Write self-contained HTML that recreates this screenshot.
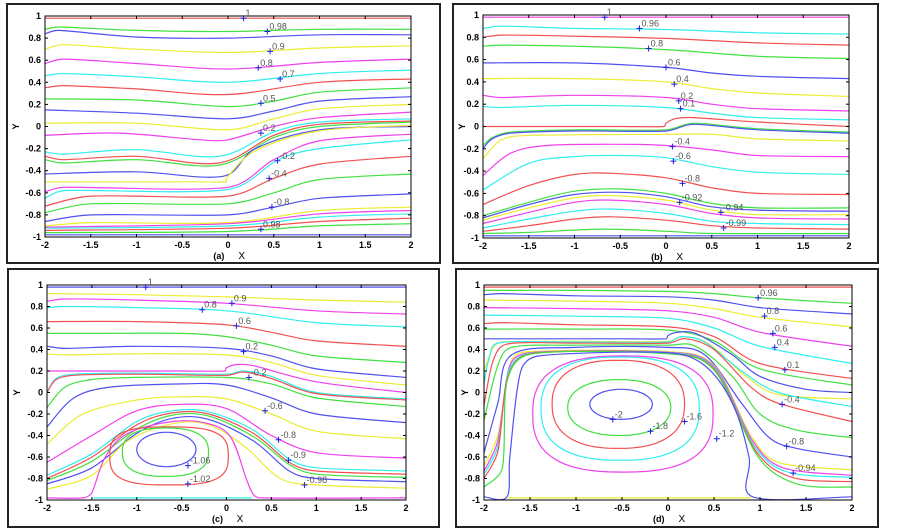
<!DOCTYPE html>
<html><head><meta charset="utf-8"><style>
html,body{margin:0;padding:0;background:#fff;}
svg{display:block;font-family:"Liberation Sans",sans-serif;}
</style></head><body>
<svg id="s" width="903" height="532" viewBox="0 0 903 532" xmlns="http://www.w3.org/2000/svg"></svg>
<script>
const S=document.getElementById('s');
const C={r:'#f25050',g:'#40e040',b:'#5050f0',y:'#ecec30',m:'#ee40ee',c:'#30eeee'};
function add(tag,attrs,txt){const e=document.createElementNS('http://www.w3.org/2000/svg',tag);for(const k in attrs)e.setAttribute(k,attrs[k]);if(txt!==undefined)e.textContent=txt;S.appendChild(e);return e;}
function tan(a,c,len){let tx=(c[0]-a[0])/6,ty=(c[1]-a[1])/6;const m=Math.hypot(tx,ty),lim=len*0.4;if(m>lim&&m>0){tx*=lim/m;ty*=lim/m;}return [tx,ty];}
function panel(P){
  const {fx0,fy0,fx1,fy1,x0,x1,y0,y1,cap}=P;
  const X=v=>x0+(v+2)/4*(x1-x0), Y=v=>y0+(1-v)/2*(y1-y0);
  add('rect',{x:fx0,y:fy0,width:fx1-fx0,height:fy1-fy0,fill:'none',stroke:'#222','stroke-width':2});
  P.lines.forEach(L=>{
    const col=C[L[0]],pts=L[1];const p=[];for(let i=0;i<pts.length;i+=2)p.push([X(pts[i]),Y(pts[i+1])]);
    let d='M'+p[0][0].toFixed(1)+','+p[0][1].toFixed(1);
    for(let i=0;i<p.length-1;i++){const a=p[i-1]||p[i],b=p[i],c=p[i+1],e=p[i+2]||c;
      const len=Math.hypot(c[0]-b[0],c[1]-b[1]);const t1=tan(a,c,len),t2=tan(b,e,len);
      d+=' C'+(b[0]+t1[0]).toFixed(1)+','+(b[1]+t1[1]).toFixed(1)+' '+(c[0]-t2[0]).toFixed(1)+','+(c[1]-t2[1]).toFixed(1)+' '+c[0].toFixed(1)+','+c[1].toFixed(1);}
    add('path',{d:d,fill:'none',stroke:col,'stroke-width':1.2});
  });
  (P.loops||[]).forEach(L=>{
    const [col,cx,cy,rx,ry,n]=L;let d='';
    for(let i=0;i<=72;i++){const t=i/72*2*Math.PI,c=Math.cos(t),s=Math.sin(t);
      const xx=cx+rx*Math.sign(c)*Math.pow(Math.abs(c),2/n),yy=cy+ry*Math.sign(s)*Math.pow(Math.abs(s),2/n);
      d+=(i?'L':'M')+X(xx).toFixed(1)+','+Y(yy).toFixed(1);}
    add('path',{d:d+'Z',fill:'none',stroke:C[col],'stroke-width':1.2});
  });
  add('rect',{x:x0,y:y0,width:x1-x0,height:y1-y0,fill:'none',stroke:'#000','stroke-width':1});
  for(let v=-2;v<=2.001;v+=0.5){const px=X(v);
    add('line',{x1:px,y1:y1,x2:px,y2:y1-3,stroke:'#000'});add('line',{x1:px,y1:y0,x2:px,y2:y0+3,stroke:'#000'});
    add('text',{x:px,y:y1+11,'font-size':9,'font-weight':'bold','text-anchor':'middle'},String(Math.round(v*10)/10));}
  for(let k=-5;k<=5;k++){const v=k/5,py=Y(v);
    add('line',{x1:x0,y1:py,x2:x0+3,y2:py,stroke:'#000'});add('line',{x1:x1,y1:py,x2:x1-3,y2:py,stroke:'#000'});
    let s=k===0?'0':(Math.abs(k)===5?String(k/5):(v).toFixed(1));
    add('text',{x:x0-4,y:py+3,'font-size':9,'font-weight':'bold','text-anchor':'end'},s);}
  add('text',{x:fx0+12,y:(y0+y1)/2,'font-size':9,'font-weight':'bold',transform:'rotate(-90 '+(fx0+12)+' '+((y0+y1)/2)+')','text-anchor':'middle'},'Y');
  add('text',{x:X(-0.1),y:y1+22,'font-size':9,'font-weight':'bold','text-anchor':'middle'},cap);
  add('text',{x:X(0.15),y:y1+22,'font-size':10,'text-anchor':'middle'},'X');
  P.labels.forEach(l=>{const px=X(l[1]),py=Y(l[2]);
    add('path',{d:'M'+(px-3)+','+py+'h6M'+px+','+(py-3)+'v6',stroke:'#2020e0','stroke-width':1});
    add('text',{x:px+2,y:py-2,'font-size':9,fill:'#555'},l[0]);});
}
const A={fx0:7,fy0:4,fx1:440,fy1:263,x0:45,x1:411,y0:16,y1:237,cap:'(a)',
lines:[['r',[-2,.98,2,.98]],['g',[-2,.88,-1.85,.9,-1,.87,0,.86,1,.88,2,.88]],['b',[-2,.84,-1.85,.87,-1,.81,0,.8,1,.83,2,.83]],
['y',[-2,.7,-1.8,.74,-1,.7,0,.67,1,.71,2,.73]],['m',[-2,.57,-1.8,.61,-1,.57,0,.52,1,.58,2,.61]],['c',[-2,.46,-1.8,.48,-1,.45,0,.4,1,.48,2,.51]],
['r',[-2,.35,-1.8,.37,-1,.34,0,.29,1,.4,2,.43]],['g',[-2,.25,-1,.24,0,.18,.5,.23,1,.31,2,.35]],['b',[-2,.15,-1,.12,0,.07,.5,.14,1,.23,2,.27]],
['y',[-2,.03,-1,.03,0,-.03,.5,.07,1,.16,2,.2]],['m',[-2,-.08,-1.2,-.06,-.3,-.12,0,-.12,.5,0,1,.08,2,.13]],
['c',[-2,-.23,-1.8,-.25,-1,-.21,-.1,-.27,.5,-.05,1,.04,2,.07]],['r',[-2,-.27,-1.8,-.3,-1,-.27,-.1,-.33,.5,-.08,1,.02,2,.05]],
['g',[-2,-.3,-1.8,-.33,-1,-.3,-.1,-.35,.5,-.1,1,0,2,.04]],['b',[-2,-.43,-1,-.41,-.05,-.45,.3,-.2,1,-.03,2,0]],
['y',[-2,-.5,-.3,-.5,-.02,-.5,-.02,-.47,.3,-.22,1,-.04,2,.01]],['m',[-2,-.59,-1.8,-.55,0,-.55,.5,-.3,1,-.13,2,-.07]],
['c',[-2,-.65,-1.8,-.58,0,-.57,.55,-.3,1,-.2,2,-.12]],['r',[-2,-.72,-1.5,-.63,0,-.63,.5,-.47,1,-.34,2,-.27]],
['g',[-2,-.78,-1.5,-.7,0,-.7,.5,-.6,1,-.48,2,-.43]],['b',[-2,-.86,-1.5,-.8,0,-.8,.5,-.73,1,-.65,2,-.61]],
['y',[-2,-.9,-1.5,-.87,0,-.87,1,-.76,2,-.73]],['m',[-2,-.91,0,-.88,1,-.79,2,-.76]],['c',[-2,-.92,0,-.9,1,-.82,2,-.79]],
['r',[-2,-.94,0,-.92,1,-.86,2,-.83]],['g',[-2,-.96,0,-.95,1,-.9,2,-.88]],['b',[-2,-.98,2,-.98]]],
labels:[['1',.17,.98],['0.98',.43,.86],['0.9',.46,.68],['0.8',.33,.53],['0.7',.57,.43],['0.5',.36,.21],['0.2',.36,-.06],['-0.2',.54,-.31],['-0.4',.45,-.47],['-0.8',.48,-.73],['0.98',.36,-.93]]};
const B={fx0:453,fy0:4,fx1:878,fy1:263,x0:483,x1:849,y0:15,y1:238,cap:'(b)',
lines:[['m',[-2,.98,2,.98]],['c',[-2,.88,-1.8,.9,-1,.88,0,.87,1,.84,2,.83]],['r',[-2,.8,-1.8,.82,-1,.81,0,.79,1,.75,2,.73]],
['g',[-2,.72,-1.8,.73,-1,.72,0,.69,1,.63,2,.61]],['b',[-2,.57,-1,.57,0,.53,.5,.48,1,.45,2,.43]],['y',[-2,.43,-1,.43,0,.4,.5,.34,1,.3,2,.27]],
['m',[-2,.28,-1.8,.26,-1,.28,0,.26,.5,.2,1,.16,2,.14]],['c',[-2,.18,-1.8,.17,-1,.19,0,.17,.5,.12,1,.08,2,.06]],
['r',[-2,0,-.5,0,-.02,0,0,.03,.1,.07,.3,.08,1,.04,2,0]],['g',[-2,-.17,-1.9,-.1,-1.7,-.05,-1,-.03,0,-.03,.3,.03,1,-.02,2,-.05]],
['b',[-2,-.2,-1.9,-.11,-1.7,-.06,-1,-.04,0,-.04,.3,.02,1,-.03,2,-.06]],['y',[-2,-.29,-1.8,-.12,-1.5,-.08,0,-.07,.5,-.07,1,-.11,2,-.13]],
['m',[-2,-.44,-1.7,-.24,-1.3,-.17,-.5,-.16,0,-.17,.5,-.21,1,-.26,2,-.27]],['c',[-2,-.57,-1.5,-.33,-1,-.27,-.5,-.26,0,-.28,.5,-.36,1,-.41,2,-.43]],
['r',[-2,-.7,-1.5,-.53,-1,-.43,-.6,-.42,0,-.46,.5,-.55,1,-.6,2,-.61]],['g',[-2,-.8,-1.5,-.68,-1,-.58,-.5,-.56,0,-.6,.5,-.69,1,-.73,2,-.73]],
['b',[-2,-.82,-1.5,-.7,-1,-.61,-.5,-.59,0,-.63,.5,-.72,1,-.75,2,-.76]],['y',[-2,-.84,-1.5,-.73,-1,-.64,-.6,-.62,0,-.66,.5,-.75,1,-.79,2,-.79]],
['m',[-2,-.87,-1.5,-.77,-1,-.68,-.6,-.66,0,-.7,.5,-.78,1,-.82,2,-.83]],['c',[-2,-.91,-1.5,-.83,-1,-.76,-.6,-.74,0,-.78,.5,-.85,1,-.87,2,-.88]],
['r',[-2,-.94,-1.5,-.89,-1,-.83,-.6,-.81,0,-.84,.5,-.89,1,-.91,2,-.92]],['g',[-2,-.96,-1.5,-.95,-.7,-.92,0,-.94,.5,-.96,2,-.96]],['b',[-2,-.98,2,-.98]]],
labels:[['1',-.67,.98],['0.96',-.29,.88],['0.8',-.19,.7],['0.6',0,.53],['0.4',.09,.38],['0.2',.14,.23],['0.1',.16,.16],['-0.4',.07,-.18],['-0.6',.08,-.31],['-0.8',.18,-.51],['-0.92',.15,-.68],['-0.94',.6,-.77],['-0.99',.63,-.91]]};
const Cc={fx0:8,fy0:269,fx1:439,fy1:527,x0:47,x1:406,y0:285,y1:500,cap:'(c)',
lines:[['b',[-2,.98,2,.98]],['y',[-2,.92,-1,.91,0,.89,1,.86,2,.84]],['m',[-2,.85,-1.8,.87,-1,.86,0,.83,1,.76,2,.73]],
['c',[-2,.79,-1.8,.8,-1,.79,0,.76,1,.65,2,.61]],['r',[-2,.66,-1,.66,0,.63,.5,.56,1,.48,2,.43]],['g',[-2,.55,-1.5,.55,-.5,.55,0,.52,.5,.44,1,.34,2,.28]],
['b',[-2,.43,-1.8,.41,-1,.43,0,.41,.5,.34,1,.22,2,.14]],['y',[-2,.36,-1.8,.35,-1,.36,0,.35,.5,.28,1,.16,2,.07]],
['m',[-2,.2,-.5,.2,-.02,.2,0,.23,.1,.26,.3,.25,1,.1,2,0]],['c',[-2,0,-1.9,.13,-1.7,.17,-1,.18,0,.17,.2,.2,.5,.15,1,0,2,-.06]],
['r',[-2,0,-1.9,.12,-1.7,.16,-1,.17,0,.16,.2,.19,.5,.13,1,-.01,2,-.07]],['g',[-2,-.14,-1.8,.05,-1.5,.12,-1,.14,0,.14,.5,.08,1,-.05,2,-.13]],
['b',[-2,-.32,-1.7,-.05,-1.3,.05,-.5,.08,0,.07,.5,-.05,1,-.2,2,-.28]],['y',[-2,-.48,-1.6,-.2,-1,-.07,-.5,-.04,0,-.06,.5,-.2,1,-.36,2,-.43]],
['m',[-2,-.65,-1.5,-.4,-1,-.17,-.5,-.11,0,-.15,.5,-.4,1,-.56,2,-.61]],
['c',[-2,-.77,-1.5,-.57,-1,-.27,-.6,-.17,-.2,-.18,.3,-.35,.7,-.62,1,-.7,2,-.73]],['r',[-2,-.8,-1.5,-.6,-1,-.3,-.6,-.19,-.2,-.2,.3,-.38,.7,-.65,1,-.73,2,-.76]],
['g',[-2,-.82,-1.5,-.64,-1,-.34,-.6,-.21,-.2,-.22,.3,-.41,.7,-.67,1,-.76,2,-.79]],['b',[-2,-.85,-1.5,-.7,-1,-.38,-.6,-.24,-.2,-.25,.3,-.45,.7,-.73,1,-.8,2,-.83]],
['y',[-2,-.9,-1.5,-.77,-1.1,-.45,-.6,-.29,-.2,-.3,.2,-.5,.6,-.8,1,-.86,2,-.89]],
['m',[-2,-.98,-1.6,-.98,-1.5,-.93,-1.35,-.6,-1.1,-.38,-.6,-.27,-.2,-.29,.05,-.42,.22,-.8,.3,-.95,.4,-.98,2,-.98]],
['c',[-1.48,-.98,-.5,-.98,.28,-.98]]],
loops:[['r',-.64,-.59,.66,.27,3],['g',-.68,-.555,.48,.225,2.5],['b',-.67,-.53,.33,.16,2]],
labels:[['1',-.9,.98],['0.9',.06,.83],['0.8',-.27,.77],['0.6',.11,.62],['0.2',.19,.38],['-0.2',.25,.14],['-0.6',.43,-.17],['-0.8',.58,-.44],['-0.9',.69,-.63],['-0.98',.87,-.86],['-1.06',-.43,-.68],['-1.02',-.43,-.85]]};
const D={fx0:456,fy0:269,fx1:878,fy1:527,x0:484,x1:852,y0:285,y1:500,cap:'(d)',
lines:[['r',[-2,.98,2,.98]],['g',[-2,.95,-1,.95,0,.94,.5,.92,1,.88,2,.83]],['b',[-2,.91,-1.8,.92,-1,.9,0,.89,.5,.86,1,.79,2,.73]],
['y',[-2,.86,-1,.85,0,.83,.5,.78,1,.7,2,.61]],['m',[-2,.79,-1,.78,0,.76,.5,.7,1,.56,2,.43]],['c',[-2,.72,-1,.71,0,.69,.5,.6,1,.43,2,.27]],
['r',[-2,.64,-1.8,.65,-1,.63,0,.61,.5,.52,1,.27,2,.13]],['g',[-2,.59,-1,.59,0,.58,.5,.48,1,.22,2,.07]],
['b',[-2,.5,-.5,.5,-.02,.5,0,.53,.1,.56,.3,.55,.7,.35,1,.15,1.5,.03,2,0]],
['y',[-2,.2,-1.9,.42,-1.8,.47,-1,.475,0,.475,.18,.52,.45,.45,.85,.15,1.2,-.02,2,-.06]],
['c',[-2,.08,-1.95,.3,-1.85,.46,-1,.47,0,.47,.15,.52,.4,.47,.8,.2,1.2,0,2,-.13]],
['r',[-2,-.12,-1.9,.3,-1.75,.45,-1,.46,0,.46,.2,.5,.5,.4,.9,.05,1.2,-.1,2,-.27]],
['g',[-2,-.26,-1.85,.25,-1.7,.42,-1,.44,0,.44,.3,.43,.7,.15,1,-.2,1.4,-.35,2,-.42]],
['b',[-2,-.56,-1.85,-.1,-1.7,.35,-1,.42,0,.42,.4,.35,.8,-.1,1.1,-.42,1.4,-.52,2,-.6]],
['y',[-2,-.68,-1.85,-.4,-1.7,.3,-1.5,.38,0,.38,.5,.25,.9,-.4,1.2,-.65,2,-.72]],
['m',[-2,-.73,-1.85,-.45,-1.72,.25,-1.5,.37,0,.375,.5,.24,.92,-.45,1.25,-.7,2,-.77]],
['c',[-2,-.76,-1.85,-.5,-1.73,.2,-1.5,.365,0,.37,.5,.23,.94,-.5,1.3,-.74,2,-.79]],
['r',[-2,-.8,-1.85,-.55,-1.74,.15,-1.5,.36,0,.365,.5,.22,.96,-.55,1.35,-.79,2,-.83]],
['g',[-2,-.88,-1.8,-.7,-1.75,.1,-1.5,.355,0,.36,.5,.21,.98,-.6,1.4,-.85,2,-.88]],
['b',[-2,-.97,-1.75,-.97,-1.72,-.6,-1.6,.2,-1.4,.34,0,.37,.4,.25,.7,-.1,.88,-.6,.92,-.97,2,-.97]],
['y',[-1.75,-.98,-.5,-.98,.9,-.98]]],
loops:[['m',-.49,-.2,.98,.54,2.6],['c',-.52,-.15,.86,.48,2.5],['r',-.54,-.11,.72,.41,2.4],['g',-.53,-.14,.56,.26,2.2],['b',-.51,-.11,.34,.14,2]],
labels:[['0.96',.98,.88],['0.8',1.05,.71],['0.6',1.14,.55],['0.4',1.16,.42],['0.1',1.27,.21],['-0.4',1.24,-.11],['-0.8',1.29,-.5],['-0.94',1.36,-.75],['-2',-.6,-.25],['-1.8',-.19,-.36],['-1.6',.18,-.27],['-1.2',.53,-.43]]};
[A,B,Cc,D].forEach(panel);
</script>
</body></html>
